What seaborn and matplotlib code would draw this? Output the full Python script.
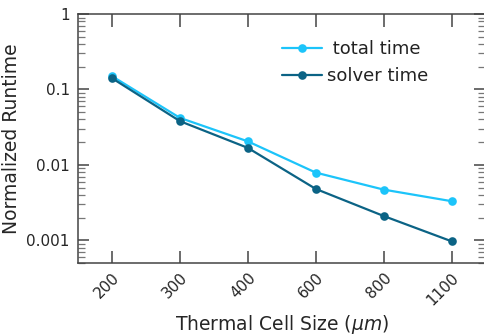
import matplotlib
matplotlib.use("Agg")
import matplotlib.pyplot as plt
import matplotlib.ticker as mticker
import seaborn as sns
import pandas as pd

sizes = ["200", "300", "400", "600", "800", "1100"]
total_time = [0.150, 0.042, 0.0205, 0.0079, 0.0047, 0.0033]
solver_time = [0.141, 0.038, 0.0168, 0.0048, 0.0021, 0.00097]
series_names = [" total time", "solver time"]
colors = ["#1cc4fa", "#0b6385"]
y_ticks = [0.001, 0.01, 0.1, 1]
y_tick_labels = ["0.001", "0.01", "0.1", "1"]

df = pd.DataFrame({
    "size": sizes * 2,
    "value": total_time + solver_time,
    "series": [series_names[0]] * len(sizes) + [series_names[1]] * len(sizes),
})

sns.set_theme(style="ticks")
plt.rcParams["font.family"] = ["DejaVu Sans"]

fig = plt.figure(figsize=(4.85, 3.35), dpi=100)
ax = fig.add_axes([0.161, 0.215, 0.840, 0.743])
ax.set_yscale("log")
sns.pointplot(data=df, x="size", y="value", hue="series", order=sizes,
              hue_order=series_names, palette=colors, markers="o",
              markersize=5, linewidth=1.6, ax=ax)

ax.set_xlim(-0.5, 5.5)
ax.set_ylim(0.0005, 1)
ax.yaxis.set_major_locator(mticker.FixedLocator(y_ticks))
ax.yaxis.set_major_formatter(mticker.FixedFormatter(y_tick_labels))
ax.yaxis.set_minor_locator(mticker.LogLocator(base=10, subs=range(2, 10), numticks=20))
ax.yaxis.set_minor_formatter(mticker.NullFormatter())

for s in ax.spines.values():
    s.set_visible(True)
    s.set_color("#444444")
    s.set_linewidth(1.1)

ax.tick_params(axis="x", which="major", direction="in", length=9, width=1.1,
               top=True, bottom=True, color="#444444", labelsize=11, pad=5)
ax.tick_params(axis="y", which="major", direction="in", length=8, width=1.1,
               left=True, right=True, color="#444444", labelsize=11, pad=6)
ax.tick_params(axis="y", which="minor", direction="in", length=5, width=0.9,
               left=True, right=True, color="#777777")
plt.setp(ax.get_xticklabels(), rotation=45, ha="right", rotation_mode="anchor")

ax.set_xlabel(r"Thermal Cell Size ($\mu m$)", fontsize=13.5, labelpad=4)
ax.set_ylabel("Normalized Runtime", fontsize=13.5, labelpad=4)

leg = ax.legend(loc="upper right", bbox_to_anchor=(0.90, 0.96), frameon=False,
                fontsize=13, handlelength=2.2, labelspacing=0.5, handletextpad=0.3)
for t in leg.get_texts():
    t.set_color("#222222")

fig.savefig("out.png", dpi=100)
